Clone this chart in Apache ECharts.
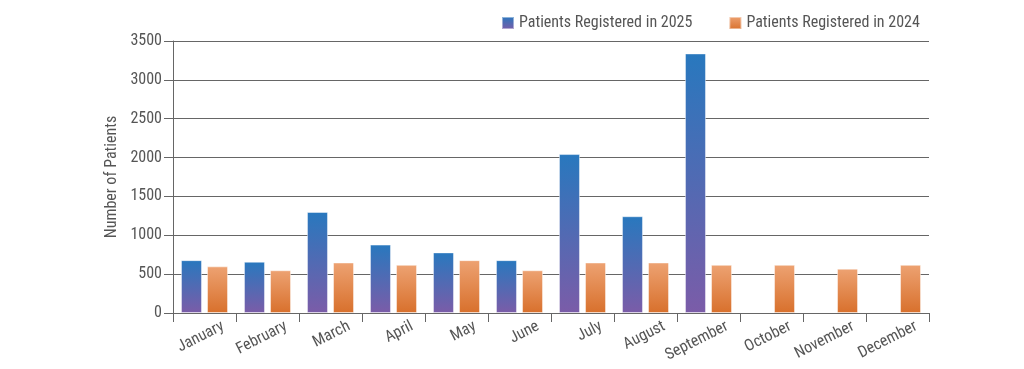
<!DOCTYPE html>
<html><head><meta charset="utf-8">
<script src="https://cdn.jsdelivr.net/npm/echarts@6/dist/echarts.min.js"></script>
<style>html,body{margin:0;padding:0;background:#fff}#c{width:1024px;height:369px}</style>
</head><body><div id="c"></div>
<script>
const months = ['January','February','March','April','May','June','July','August','September','October','November','December'];
const patients2025 = [680, 660, 1300, 880, 780, 680, 2045, 1245, 3340, null, null, null];
const patients2024 = [600, 550, 650, 620, 680, 550, 650, 650, 620, 620, 570, 620];
const yTicks = [0, 500, 1000, 1500, 2000, 2500, 3000, 3500];

const font = '"Roboto Condensed", "Liberation Sans Narrow", Roboto, sans-serif';
const chart = echarts.init(document.getElementById('c'));
const grad = (a, b) => new echarts.graphic.LinearGradient(0, 0, 0, 1, [{offset: 0, color: a}, {offset: 1, color: b}]);
chart.setOption({
  animation: false,
  textStyle: {fontFamily: font},
  legend: {
    top: 10, left: 496, itemWidth: 12, itemHeight: 12, itemGap: 36,
    icon: 'rect',
    textStyle: {fontSize: 16, color: '#555', fontFamily: font},
    data: ['Patients Registered in 2025', 'Patients Registered in 2024']
  },
  grid: {left: 173, right: 95, top: 41, bottom: 56},
  xAxis: {
    type: 'category', data: months,
    axisLine: {lineStyle: {color: '#666', width: 1}},
    axisTick: {show: true, length: 9, lineStyle: {color: '#666'}},
    axisLabel: {rotate: 27, align: 'right', verticalAlign: 'middle', padding: [0, -21, 0, 0], fontSize: 16, color: '#555', margin: 22, fontFamily: font}
  },
  yAxis: {
    type: 'value', min: yTicks[0], max: yTicks[yTicks.length - 1], interval: 500,
    name: 'Number of Patients', nameLocation: 'middle', nameGap: 53, nameRotate: 90,
    nameTextStyle: {fontSize: 16, color: '#555', fontFamily: font},
    axisLine: {show: true, lineStyle: {color: '#666'}},
    axisTick: {show: true, length: 9, lineStyle: {color: '#666'}},
    axisLabel: {fontSize: 16, color: '#555', margin: 11, fontFamily: font, formatter: v => String(v)},
    splitLine: {lineStyle: {color: '#666', width: 1}}
  },
  series: [
    {
      name: 'Patients Registered in 2025', type: 'bar', data: patients2025,
      barWidth: 21, barGap: '24%',
      itemStyle: {color: grad('#2878BE', '#7B5CA8'), borderColor: 'rgba(255,255,255,0.45)', borderWidth: 1}
    },
    {
      name: 'Patients Registered in 2024', type: 'bar', data: patients2024,
      barWidth: 21,
      itemStyle: {color: grad('#EDA272', '#D8702C'), borderColor: 'rgba(255,255,255,0.45)', borderWidth: 1}
    }
  ]
});
</script></body></html>
